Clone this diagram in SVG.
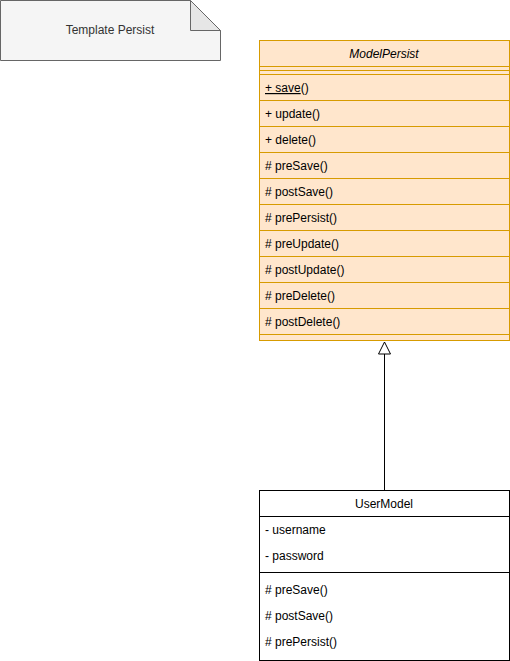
<svg xmlns="http://www.w3.org/2000/svg" width="510" height="661" viewBox="0 0 510 661">
  <defs>
    <style>
      text { font-family: "Liberation Sans", Arial, Helvetica, sans-serif; font-size: 12px; }
      .note { fill: #f5f5f5; stroke: #666666; stroke-width: 1; }
      .note-fold { fill: #e6e6e6; stroke: #666666; stroke-width: 1; }
      .note-text { fill: #333333; text-anchor: middle; }
      .abs { fill: #ffe6cc; stroke: #d79b00; stroke-width: 1; }
      .abs-line { stroke: #d79b00; stroke-width: 1; fill: none; }
      .cls { fill: #ffffff; stroke: #000000; stroke-width: 1; }
      .cls-line { stroke: #000000; stroke-width: 1; fill: none; }
      .member { fill: #000000; }
      .title { fill: #000000; text-anchor: middle; }
      .edge { stroke: #000000; stroke-width: 1; fill: none; }
    </style>
    <marker id="inherit" viewBox="0 0 14 14" refX="13" refY="7" markerWidth="14" markerHeight="14" markerUnits="userSpaceOnUse" orient="auto">
      <path d="M1,1 L13,7 L1,13 Z" fill="#ffffff" stroke="#000000" stroke-width="1"/>
    </marker>
  </defs>

  <!-- Note -->
  <g id="note-template-persist">
    <path class="note" d="M0.5,0.5 H190.5 L220.5,30.5 V60.5 H0.5 Z"/>
    <path class="note-fold" d="M190.5,0.5 V30.5 H220.5 Z"/>
    <text class="note-text" x="110" y="34">Template Persist</text>
  </g>

  <!-- Connectors -->
  <g id="connectors">
    <path class="edge" d="M384.5,490 V342" marker-end="url(#inherit)"/>
  </g>

  <!-- Abstract class ModelPersist -->
  <g id="model-persist">
    <rect class="abs" x="259.5" y="40.5" width="250" height="300"/>
    <line class="abs-line" x1="259.5" y1="66.5" x2="509.5" y2="66.5"/>
    <line class="abs-line" x1="259.5" y1="70.5" x2="509.5" y2="70.5"/>
    <line class="abs-line" x1="259.5" y1="74.5" x2="509.5" y2="74.5"/>
    <line class="abs-line" x1="259.5" y1="100.5" x2="509.5" y2="100.5"/>
    <line class="abs-line" x1="259.5" y1="126.5" x2="509.5" y2="126.5"/>
    <line class="abs-line" x1="259.5" y1="152.5" x2="509.5" y2="152.5"/>
    <line class="abs-line" x1="259.5" y1="178.5" x2="509.5" y2="178.5"/>
    <line class="abs-line" x1="259.5" y1="204.5" x2="509.5" y2="204.5"/>
    <line class="abs-line" x1="259.5" y1="230.5" x2="509.5" y2="230.5"/>
    <line class="abs-line" x1="259.5" y1="256.5" x2="509.5" y2="256.5"/>
    <line class="abs-line" x1="259.5" y1="282.5" x2="509.5" y2="282.5"/>
    <line class="abs-line" x1="259.5" y1="308.5" x2="509.5" y2="308.5"/>
    <line class="abs-line" x1="259.5" y1="334.5" x2="509.5" y2="334.5"/>
    <text class="title" x="384" y="58" font-style="italic">ModelPersist</text>
    <text class="member" x="265" y="92"><tspan text-decoration="underline">+ save</tspan>()</text>
    <text class="member" x="265" y="118">+ update()</text>
    <text class="member" x="265" y="144">+ delete()</text>
    <text class="member" x="265" y="170"># preSave()</text>
    <text class="member" x="265" y="196"># postSave()</text>
    <text class="member" x="265" y="222"># prePersist()</text>
    <text class="member" x="265" y="248"># preUpdate()</text>
    <text class="member" x="265" y="274"># postUpdate()</text>
    <text class="member" x="265" y="300"># preDelete()</text>
    <text class="member" x="265" y="326"># postDelete()</text>
  </g>

  <!-- Class UserModel -->
  <g id="user-model">
    <rect class="cls" x="259.5" y="490.5" width="250" height="170"/>
    <line class="cls-line" x1="259.5" y1="516.5" x2="509.5" y2="516.5"/>
    <line class="cls-line" x1="259.5" y1="572.5" x2="509.5" y2="572.5"/>
    <text class="title" x="384" y="508">UserModel</text>
    <text class="member" x="265" y="534">- username</text>
    <text class="member" x="265" y="560">- password</text>
    <text class="member" x="265" y="594"># preSave()</text>
    <text class="member" x="265" y="620"># postSave()</text>
    <text class="member" x="265" y="646"># prePersist()</text>
  </g>
</svg>
